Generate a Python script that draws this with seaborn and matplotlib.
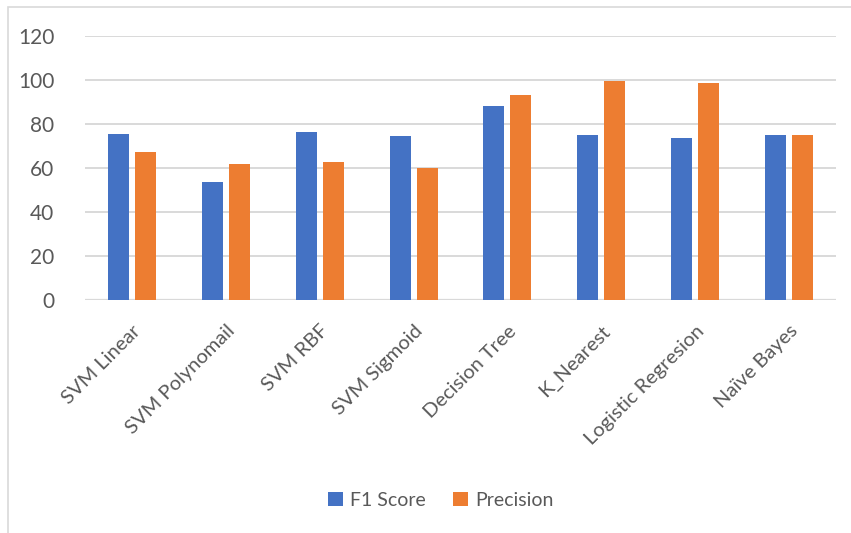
import matplotlib
matplotlib.use("Agg")
import matplotlib.pyplot as plt
from matplotlib.patches import Rectangle, Patch
import seaborn as sns
import pandas as pd

# Classifier scores
models = ["SVM Linear", "SVM Polynomail", "SVM RBF", "SVM Sigmoid",
          "Decision Tree", "K_Nearest", "Logistic Regresion", "Naïve Bayes"]
f1_score = [75.3, 53.5, 76.2, 74.7, 88.2, 74.8, 73.6, 74.8]
precision = [67.3, 61.7, 62.7, 60.2, 93.3, 99.7, 98.5, 74.8]
series_names = ["F1 Score", "Precision"]
y_ticks = [0, 20, 40, 60, 80, 100, 120]

colors = ["#4472C4", "#ED7D31"]
text_color = "#595959"
grid_color = "#D9D9D9"

df = pd.DataFrame({
    "Model": models * 2,
    "Score": f1_score + precision,
    "Metric": [series_names[0]] * len(models) + [series_names[1]] * len(models),
})

sns.set_theme(style="white")
plt.rcParams["font.family"] = ["Lato", "DejaVu Sans"]

W, H = 851, 533
fig = plt.figure(figsize=(W / 100, H / 100), dpi=100)
ax = fig.add_axes([85 / W, (H - 300) / H, (836 - 85) / W, 264 / H])

sns.barplot(data=df, x="Model", y="Score", hue="Metric", order=models,
            hue_order=series_names, palette=colors, width=0.575, gap=0.22,
            linewidth=0, saturation=1, ax=ax, legend=False)

ax.set_ylim(0, 120)
ax.set_xlim(-0.5, len(models) - 0.5)
ax.set_yticks(y_ticks)
ax.set_yticklabels([str(t) for t in y_ticks], fontsize=15, color=text_color)
ax.yaxis.grid(True, color=grid_color, linewidth=1.4)
ax.set_axisbelow(True)
for s in ax.spines.values():
    s.set_visible(False)
ax.tick_params(axis="y", length=0, pad=22)
ax.tick_params(axis="x", length=0, pad=16)
ax.set_xticks(range(len(models)))
ax.set_xticklabels(models, rotation=45, ha="right", rotation_mode="anchor",
                   fontsize=14.5, color=text_color)
ax.set_xlabel("")
ax.set_ylabel("")

# Baseline
ax.axhline(0, color=grid_color, linewidth=1.6, zorder=0.5)

# Chart-area border
fig.patches.append(Rectangle((8 / W, -0.1), 1.2, (H - 7) / H + 0.1,
                             transform=fig.transFigure, fill=False,
                             edgecolor="#D9D9D9", linewidth=1.2))

handles = [Patch(facecolor=c, edgecolor="none") for c in colors]
fig.legend(handles, series_names, loc="center", bbox_to_anchor=(441 / W, (H - 500) / H),
           ncol=2, frameon=False, fontsize=14, labelcolor=text_color,
           handlelength=0.75, handleheight=0.75, handletextpad=0.4, columnspacing=1.4)

fig.savefig("out.png", dpi=100)
